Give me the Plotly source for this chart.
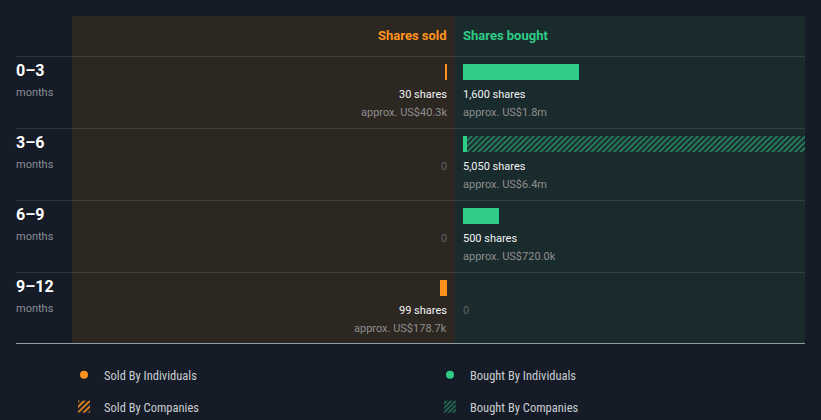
import plotly.graph_objects as go

# ---------------- data ----------------
periods = ["0–3", "3–6", "6–9", "9–12"]
period_unit = "months"
sold_individuals = [30, 0, 0, 99]
sold_companies = [0, 0, 0, 0]
bought_individuals = [1600, 50, 500, 0]
bought_companies = [0, 5000, 0, 0]
sold_values = ["US$40.3k", None, None, "US$178.7k"]
bought_values = ["US$1.8m", "US$6.4m", "US$720.0k", None]

# ---------------- style ----------------
BG = "#151c27"
SOLD_BG = "#2d2722"
BOUGHT_BG = "#1a2b2e"
ORANGE = "#ff931e"
GREEN = "#2ecc85"
W, H = 821, 420
ROW_PX = 72
SHARES_PER_PX = 1600 / 116.0
PAD_PX = 8

def py(p):  # pixel row -> y (category index) units
    return p / ROW_PX - 1

def px(p):  # pixel column -> paper x
    return p / W

def pyp(p):  # pixel row -> paper y
    return 1 - p / H

fig = go.Figure()
bar_w = 16 / ROW_PX

fig.add_trace(go.Bar(y=periods, x=sold_individuals, orientation="h", xaxis="x", yaxis="y",
                     width=bar_w, marker=dict(color=ORANGE, line=dict(width=0)),
                     name="Sold By Individuals", showlegend=False, hoverinfo="skip"))
fig.add_trace(go.Bar(y=periods, x=sold_companies, orientation="h", xaxis="x", yaxis="y",
                     width=bar_w, marker=dict(color=ORANGE, line=dict(width=0),
                                              pattern=dict(shape="/", fgcolor=ORANGE, bgcolor="rgba(0,0,0,0)",
                                                            size=5, solidity=0.4, fillmode="replace")),
                     name="Sold By Companies", legend="legend3", showlegend=True, hoverinfo="skip"))
fig.add_trace(go.Bar(y=periods, x=bought_individuals, orientation="h", xaxis="x2", yaxis="y",
                     width=bar_w, marker=dict(color=GREEN, line=dict(width=0)),
                     name="Bought By Individuals", showlegend=False, hoverinfo="skip"))
fig.add_trace(go.Bar(y=periods, x=bought_companies, orientation="h", xaxis="x2", yaxis="y",
                     width=bar_w, marker=dict(color=GREEN, line=dict(width=0),
                                              pattern=dict(shape="/", fgcolor=GREEN, bgcolor="rgba(0,0,0,0)",
                                                           fgopacity=0.6, size=4, solidity=0.4, fillmode="replace")),
                     name="Bought By Companies", legend="legend4", showlegend=True, hoverinfo="skip"))

# legend-only markers for individuals
fig.add_trace(go.Scatter(x=[None], y=[None], mode="markers", xaxis="x", yaxis="y",
                         marker=dict(color=ORANGE, size=8, symbol="circle"),
                         name="Sold By Individuals", legend="legend", showlegend=True))
fig.add_trace(go.Scatter(x=[None], y=[None], mode="markers", xaxis="x2", yaxis="y",
                         marker=dict(color=GREEN, size=8, symbol="circle"),
                         name="Bought By Individuals", legend="legend2", showlegend=True))

shapes = [
    dict(type="rect", xref="paper", yref="y", x0=px(72), x1=px(455), y0=py(16), y1=py(343.5),
         fillcolor=SOLD_BG, line=dict(width=0), layer="below"),
    dict(type="rect", xref="paper", yref="y", x0=px(455), x1=px(805), y0=py(16), y1=py(343.5),
         fillcolor=BOUGHT_BG, line=dict(width=0), layer="below"),
]
for i in range(len(periods)):
    shapes.append(dict(type="line", xref="paper", yref="y", x0=px(16), x1=px(805),
                       y0=i - 15.5 / ROW_PX, y1=i - 15.5 / ROW_PX,
                       line=dict(color="rgba(255,255,255,0.11)", width=1), layer="below"))
shapes.append(dict(type="line", xref="paper", yref="y", x0=px(16), x1=px(805),
                   y0=py(343.5), y1=py(343.5), line=dict(color="#8f9ca3", width=1.2)))

ann = []
ann.append(dict(xref="x", yref="y", x=0, y=py(35), text="<b>Shares sold</b>", showarrow=False,
                xanchor="right", yanchor="middle", xshift=2, font=dict(color=ORANGE, size=13)))
ann.append(dict(xref="x2", yref="y", x=0, y=py(35), text="<b>Shares bought</b>", showarrow=False,
                xanchor="left", yanchor="middle", xshift=-2, font=dict(color=GREEN, size=13)))

for i, p in enumerate(periods):
    ann.append(dict(xref="paper", yref="y", x=px(16), y=i - 2 / ROW_PX, text="<b>%s</b>" % p,
                    showarrow=False, xanchor="left", yanchor="middle", xshift=-2,
                    font=dict(color="#ffffff", size=16)))
    ann.append(dict(xref="paper", yref="y", x=px(16), y=i + 20 / ROW_PX, text=period_unit,
                    showarrow=False, xanchor="left", yanchor="middle", xshift=-2,
                    font=dict(color="#8b8e93", size=11)))
    for axis, anchor, sh, total, val in (
        ("x", "right", 2, sold_individuals[i] + sold_companies[i], sold_values[i]),
        ("x2", "left", -2, bought_individuals[i] + bought_companies[i], bought_values[i]),
    ):
        if total > 0:
            ann.append(dict(xref=axis, yref="y", x=0, y=i + 22 / ROW_PX, text="%s shares" % format(total, ","),
                            showarrow=False, xanchor=anchor, yanchor="middle", xshift=sh,
                            font=dict(color="#f2f2f2", size=11)))
            ann.append(dict(xref=axis, yref="y", x=0, y=i + 40 / ROW_PX, text="approx. %s" % val,
                            showarrow=False, xanchor=anchor, yanchor="middle", xshift=sh,
                            font=dict(color="#8e8e8e", size=11)))
        else:
            ann.append(dict(xref=axis, yref="y", x=0, y=i + 22 / ROW_PX, text="0",
                            showarrow=False, xanchor=anchor, yanchor="middle", xshift=sh,
                            font=dict(color="#5f6366", size=11)))

leg_font = dict(family="Roboto Condensed, Roboto, sans-serif", size=12.5, color="#c9cdd2")
def leg(xp, yp):
    return dict(x=px(xp - 20), y=pyp(yp), xanchor="left", yanchor="middle", bgcolor="rgba(0,0,0,0)",
                borderwidth=0, font=leg_font, orientation="v", itemclick=False, itemdoubleclick=False)

fig.update_layout(
    width=W, height=H,
    margin=dict(l=0, r=0, t=0, b=0, autoexpand=False),
    paper_bgcolor=BG, plot_bgcolor="rgba(0,0,0,0)",
    font=dict(family="Roboto, sans-serif"),
    barmode="stack", bargap=0,
    xaxis=dict(domain=[px(72), px(455)], range=[(455 - 72 - PAD_PX) * SHARES_PER_PX, -PAD_PX * SHARES_PER_PX],
               visible=False, fixedrange=True),
    xaxis2=dict(domain=[px(455), px(805)], range=[-PAD_PX * SHARES_PER_PX, (805 - 455 - PAD_PX) * SHARES_PER_PX],
                visible=False, fixedrange=True, anchor="y"),
    yaxis=dict(type="category", categoryarray=periods, range=[H / ROW_PX - 1, -1],
               visible=False, domain=[0, 1], fixedrange=True),
    shapes=shapes, annotations=ann,
    legend=leg(84, 375), legend2=leg(450, 375), legend3=leg(84, 407), legend4=leg(450, 407),
    showlegend=True,
)

fig.write_html("out.html", config={"displayModeBar": False})
